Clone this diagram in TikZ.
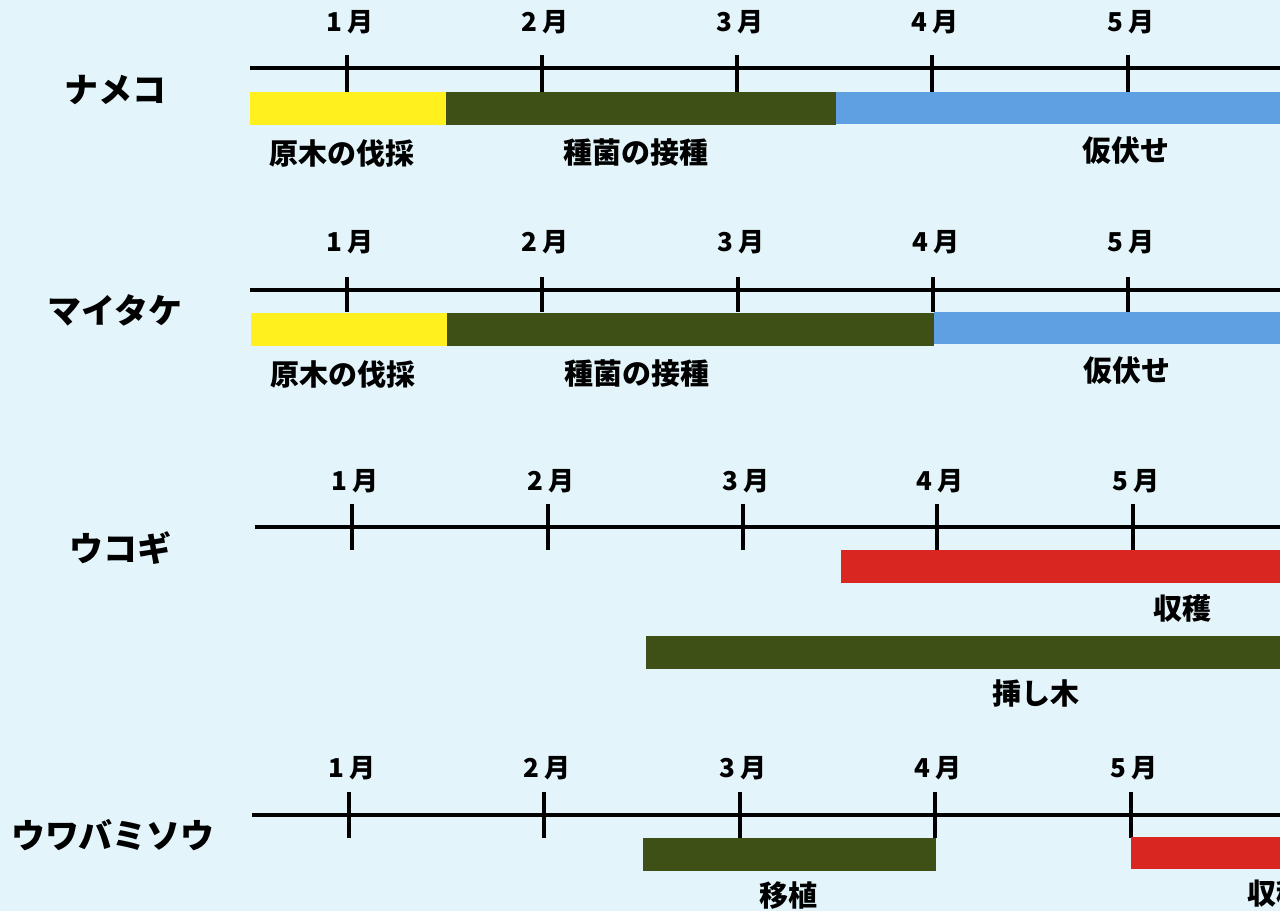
\documentclass[tikz,border=0pt]{standalone}
\usepackage{fontspec}
\setmainfont{Noto Sans CJK JP}
\definecolor{bgc}{RGB}{227,245,250}
\definecolor{yel}{RGB}{255,240,30}
\definecolor{grn}{RGB}{62,80,22}
\definecolor{blu}{RGB}{95,160,226}
\definecolor{redc}{RGB}{218,38,32}
\begin{document}
\begin{tikzpicture}[x=1pt,y=-1pt,
  axis/.style={line width=3.2pt,black},
  tickl/.style={line width=3.2pt,black},
  month/.style={font=\bfseries\fontsize{26}{26}\selectfont,inner sep=0pt},
  lab/.style={font=\bfseries\fontsize{29}{29}\selectfont,inner sep=0pt},
  head/.style={font=\bfseries\fontsize{34}{34}\selectfont,inner sep=0pt}]
\useasboundingbox (0,0) rectangle (1280,911);
\fill[bgc] (0,0) rectangle (1280,911);
\clip (0,0) rectangle (1280,911);

% ---------- ナメコ ----------
\node[head] (h1) at (115,90) {ナメコ};
\fill[yel] (250,92) rectangle (446,125);
\fill[grn] (446,92) rectangle (836,125);
\fill[blu] (836,92) rectangle (1280,124);
\draw[axis] (250,68) -- (1280,68);
\foreach \x/\m in {347/1,542/2,737/3,932/4,1128/5}
  {\draw[tickl] (\x,55) -- (\x,92);
   \node[month] at (\x+3,22) {\m\kern5pt 月};}
\node[lab] (l11) at (342,153) {原木の伐採};
\node[lab] (l12) at (636,153) {種菌の接種};
\node[lab] (l13) at (1126,151) {仮伏せ};

% ---------- マイタケ ----------
\node[head] (h2) at (115,310) {マイタケ};
\fill[yel] (251,313) rectangle (447,346);
\fill[grn] (447,313) rectangle (934,346);
\fill[blu] (934,312) rectangle (1280,344);
\draw[axis] (250,290) -- (1280,290);
\foreach \x/\m in {347/1,542/2,738/3,933/4,1128/5}
  {\draw[tickl] (\x,277) -- (\x,312);
   \node[month] at (\x+3,242) {\m\kern5pt 月};}
\node[lab] (l21) at (343,374) {原木の伐採};
\node[lab] (l22) at (637,374) {種菌の接種};
\node[lab] (l23) at (1127,371) {仮伏せ};

% ---------- ウコギ ----------
\node[head] (h3) at (120,548) {ウコギ};
\draw[axis] (255,527) -- (1280,527);
\foreach \x/\m in {352/1,548/2,743/3,937/4,1133/5}
  {\draw[tickl] (\x,504) -- (\x,550);
   \node[month] at (\x+3,481) {\m\kern5pt 月};}
\fill[redc] (841,550) rectangle (1280,583);
\fill[grn] (646,636) rectangle (1280,669);
\node[lab] (l31) at (1182,608) {収穫};
\node[lab] (l32) at (1036,693) {挿し木};

% ---------- ウワバミソウ ----------
\node[head] (h4) at (113,835) {ウワバミソウ};
\draw[axis] (252,815) -- (1280,815);
\foreach \x/\m in {349/1,544/2,740/3,935/4,1131/5}
  {\draw[tickl] (\x,792) -- (\x,838);
   \node[month] at (\x+3,768) {\m\kern5pt 月};}
\fill[grn] (643,838) rectangle (936,871);
\fill[redc] (1131,837) rectangle (1280,869);
\node[lab] (l41) at (788,896) {移植};
\node[lab,anchor=west] (l42) at (1247,893) {収穫};
\end{tikzpicture}
\end{document}
